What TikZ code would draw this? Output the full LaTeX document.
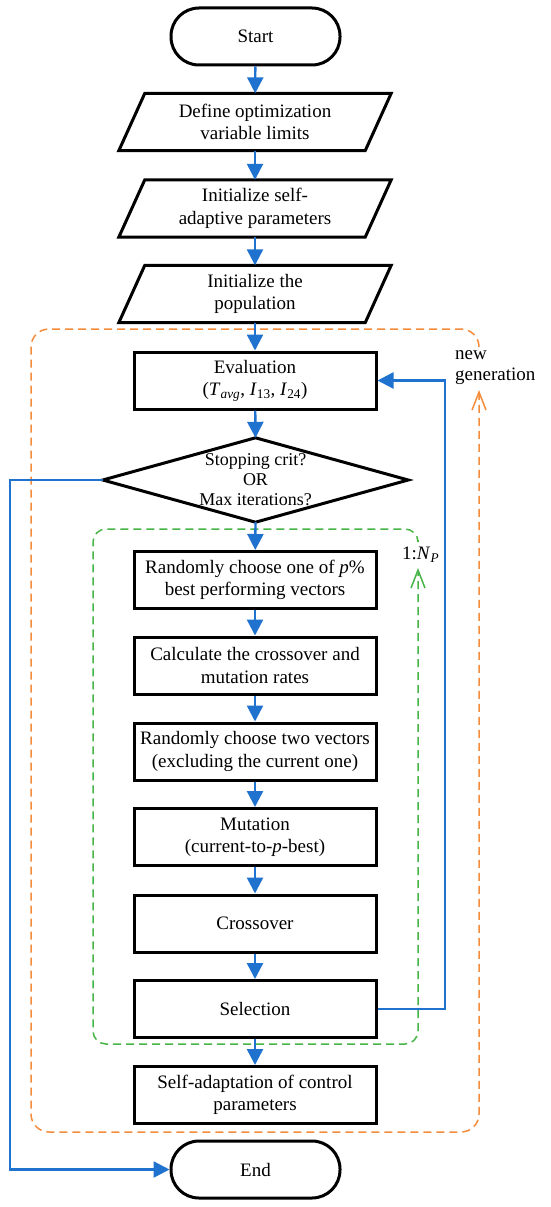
\documentclass[tikz,border=0pt]{standalone}
\usepackage{fontspec}
\setmainfont{Liberation Serif}
\usetikzlibrary{arrows.meta,calc}
\definecolor{flowblue}{RGB}{31,114,206}
\definecolor{frameorange}{RGB}{245,140,60}
\definecolor{framegreen}{RGB}{70,180,70}
\begin{document}
\begin{tikzpicture}[x=1pt,y=-1pt,
  every node/.style={font=\fontsize{19}{22.5}\selectfont, inner sep=0pt, align=center},
  procbox/.style={draw=black, line width=3pt, minimum width=242pt, minimum height=57pt},
  termbox/.style={draw=black, line width=3pt, rounded corners=28pt, minimum width=169pt, minimum height=57pt},
  iobox/.style={minimum width=246pt, minimum height=57pt},
  ioline/.style={draw=black, line width=3pt, line join=miter},
  flow/.style={draw=flowblue, line width=2.4pt, -{Triangle[length=16pt,width=16pt]}},
  orangeframe/.style={draw=frameorange, line width=1.5pt, dash pattern=on 8pt off 5pt, rounded corners=18pt, -{Straight Barb[length=18pt,width=14pt,line width=1.5pt]}},
  greenframe/.style={draw=framegreen, line width=1.5pt, dash pattern=on 8pt off 5pt, rounded corners=13pt, -{Straight Barb[length=18pt,width=14pt,line width=1.5pt]}},
  sidelabel/.style={anchor=west, align=left}
]
\useasboundingbox (0,0) rectangle (550,1207);

% frames
\coordinate (oA) at (479,347);
\coordinate (oB) at (479,329);
\coordinate (oC) at (31,329);
\coordinate (oD) at (31,1132);
\coordinate (oE) at (479,1132);
\coordinate (oF) at (479,390);
\draw[orangeframe] (oA) -- (oB) -- (oC) -- (oD) -- (oE) -- (oF);
\coordinate (gA) at (418,540);
\coordinate (gB) at (418,529);
\coordinate (gC) at (93,529);
\coordinate (gD) at (93,1044);
\coordinate (gE) at (418,1044);
\coordinate (gF) at (418,568);
\draw[greenframe] (gA) -- (gB) -- (gC) -- (gD) -- (gE) -- (gF);

% nodes
\node[termbox] (start) at (255.5,36.5) {Start};
\node[iobox] (p1) at (255,122) {Define optimization\\variable limits};
\node[iobox] (p2) at (255,208.5) {Initialize self-\\adaptive parameters};
\node[iobox] (p3) at (255,294) {Initialize the\\population};
\foreach \n in {p1,p2,p3}{
  \draw[ioline] ($(\n.north west)+(13,0)$) -- ($(\n.north east)+(13,0)$) -- ($(\n.south east)+(-13,0)$) -- ($(\n.south west)+(-13,0)$) -- cycle;
}
\node[procbox] (eval) at (255,380.5) {Evaluation\\(\textit{T}\textsubscript{\textit{avg}}, \textit{I}\textsubscript{13}, \textit{I}\textsubscript{24})};
\node[minimum width=305pt, minimum height=84pt, font=\fontsize{18}{20}\selectfont] (dec) at (255.5,480) {Stopping crit?\\OR\\Max iterations?};
\draw[ioline] (dec.north) -- (dec.east) -- (dec.south) -- (dec.west) -- cycle;
\node[procbox] (b1) at (255,580) {Randomly choose one of \textit{p}\%\\best performing vectors};
\node[procbox] (b2) at (255,665.5) {Calculate the crossover and\\mutation rates};
\node[procbox] (b3) at (255,751.5) {Randomly choose two vectors\\(excluding the current one)};
\node[procbox] (b4) at (255,837) {Mutation\\(current-to-\textit{p}-best)};
\node[procbox] (b5) at (255,923.5) {Crossover};
\node[procbox] (b6) at (255,1009) {Selection};
\node[procbox] (b7) at (255,1095) {Self-adaptation of control\\parameters};
\node[termbox] (end) at (255.5,1169.5) {End};

\node[sidelabel, font=\fontsize{19}{21}\selectfont] (newgen) at (455,368) {new\\generation};
\node[sidelabel] (np) at (402,555) {1:\textit{N}\textsubscript{\textit{P}}};

% connectors
\draw[flow] (start) -- (p1);
\draw[flow] (p1) -- (p2);
\draw[flow] (p2) -- (p3);
\draw[flow] (p3) -- (eval);
\draw[flow] (eval) -- (dec.north);
\draw[flow] (dec.south) -- (b1);
\draw[flow] (b1) -- (b2);
\draw[flow] (b2) -- (b3);
\draw[flow] (b3) -- (b4);
\draw[flow] (b4) -- (b5);
\draw[flow] (b5) -- (b6);
\draw[flow] (b6) -- (b7);
\coordinate (fbR) at (445,1009);
\coordinate (fbT) at (445,380.5);
\draw[flow] (b6.east) -- (fbR) -- (fbT) -- (eval.east);
\coordinate (lpT) at (10,480);
\coordinate (lpB) at (10,1169.5);
\draw[flow] (dec.west) -- (lpT) -- (lpB) -- (end.west);
\end{tikzpicture}
\end{document}
